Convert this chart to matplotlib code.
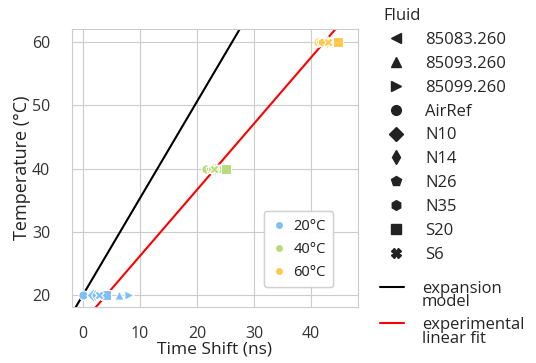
import numpy as np
import matplotlib
matplotlib.use("Agg")
import matplotlib.pyplot as plt
import seaborn as sns
from matplotlib.lines import Line2D
from matplotlib.legend_handler import HandlerLine2D

sns.set_style("whitegrid")
plt.rcParams['font.family'] = ['Open Sans', 'DejaVu Sans']

# data
fluids = ['85083.260', '85093.260', '85099.260', 'AirRef', 'N10',
          'N14', 'N26', 'N35', 'S20', 'S6']
markers = ['<', '^', '>', 'o', 'D', 'd', 'p', 'h', 's', 'X']
temps = [20, 40, 60]
temp_labels = ['20°C', '40°C', '60°C']
temp_colors = ['#7fbff5', '#b8dc7a', '#ffc94d']
shift_20 = [2.0, 6.3, 8.0, 0.0, 1.8, 2.2, 3.0, 3.3, 4.0, 2.8]
shift_40 = [22.5, 24.0, 24.5, 21.6, 22.8, 23.2, 22.3, 22.6, 25.1, 23.0]
shift_60 = [42.2, 43.8, 44.2, 41.2, 42.5, 42.8, 41.5, 41.8, 44.7, 43.0]
shifts = [shift_20, shift_40, shift_60]

# line models: T = 20 + slope * (shift - x0)
model_slope, model_x0 = 1.53, 0.0
fit_slope, fit_x0 = 1.047, 4.1


class HandlerLineUp(HandlerLine2D):
    # put the legend line level with the first text line
    def __init__(self, dy, **kw):
        super().__init__(**kw)
        self.dy = dy

    def create_artists(self, legend, orig_handle, xdescent, ydescent,
                       width, height, fontsize, trans):
        arts = super().create_artists(legend, orig_handle, xdescent, ydescent,
                                      width, height, fontsize, trans)
        for a in arts:
            a.set_ydata(np.asarray(a.get_ydata()) + self.dy)
        return arts


fig = plt.figure(figsize=(5.36, 3.63), dpi=100)
ax = fig.add_axes([0.134, 0.154, 0.534, 0.766])

xs = np.linspace(-5, 50, 50)
ax.plot(xs, 20 + model_slope * (xs - model_x0), color='black', lw=1.5, zorder=2)
ax.plot(xs, 20 + fit_slope * (xs - fit_x0), color='red', lw=1.5, zorder=2)

for T, col, sh in zip(temps, temp_colors, shifts):
    for x, m in zip(sh, markers):
        ax.scatter(x, T, marker=m, s=45, color=col, edgecolor='white',
                   linewidth=0.8, zorder=3)

ax.set_xlim(-1.93, 48.2)
ax.set_ylim(18.1, 62.05)
ax.set_xticks([0, 10, 20, 30, 40])
ax.set_yticks([20, 30, 40, 50, 60])
ax.tick_params(labelsize=11.5, colors='#333333', pad=12)
ax.tick_params(axis='x', pad=10)
for s in ax.spines.values():
    s.set_color('#cccccc')
ax.set_xlabel('Time Shift (ns)', fontsize=12.5, color='#222222', labelpad=0)
ax.set_ylabel('Temperature (°C)', fontsize=13, color='#222222', labelpad=1)

hue_handles = [Line2D([], [], marker='o', ls='', color=c, markersize=6,
                      markeredgecolor='white') for c in temp_colors]
leg1 = ax.legend(hue_handles, temp_labels, loc='lower right',
                 bbox_to_anchor=(0.913, 0.072), borderaxespad=0, fontsize=10.5,
                 frameon=True, handlelength=1.0, handletextpad=0.5,
                 borderpad=0.5, labelspacing=0.55)
leg1.get_frame().set_edgecolor('#cccccc')
ax.add_artist(leg1)

style_handles = [Line2D([], [], marker=m, ls='', color='#222222', markersize=7)
                 for m in markers]
leg2 = fig.legend(style_handles, fluids, title='Fluid', loc='upper left',
                  bbox_to_anchor=(0.697, 1.005), fontsize=12, title_fontsize=12,
                  frameon=False, handlelength=1.45, handletextpad=1.05,
                  labelspacing=0.47, alignment='left', borderaxespad=0.2)

line_handles = [Line2D([], [], color='black', lw=1.5),
                Line2D([], [], color='red', lw=1.5)]
line_labels = ['expansion\nmodel', 'experimental\nlinear fit']
leg3 = fig.legend(line_handles, line_labels, loc='upper left',
                  bbox_to_anchor=(0.697, 0.245), fontsize=12, frameon=False,
                  handlelength=1.45, handletextpad=1.05, labelspacing=0.4,
                  borderaxespad=0, handler_map={Line2D: HandlerLineUp(6.5)})
for t in leg3.get_texts():
    t.set_linespacing(0.8)

fig.savefig('out.png', dpi=100)
